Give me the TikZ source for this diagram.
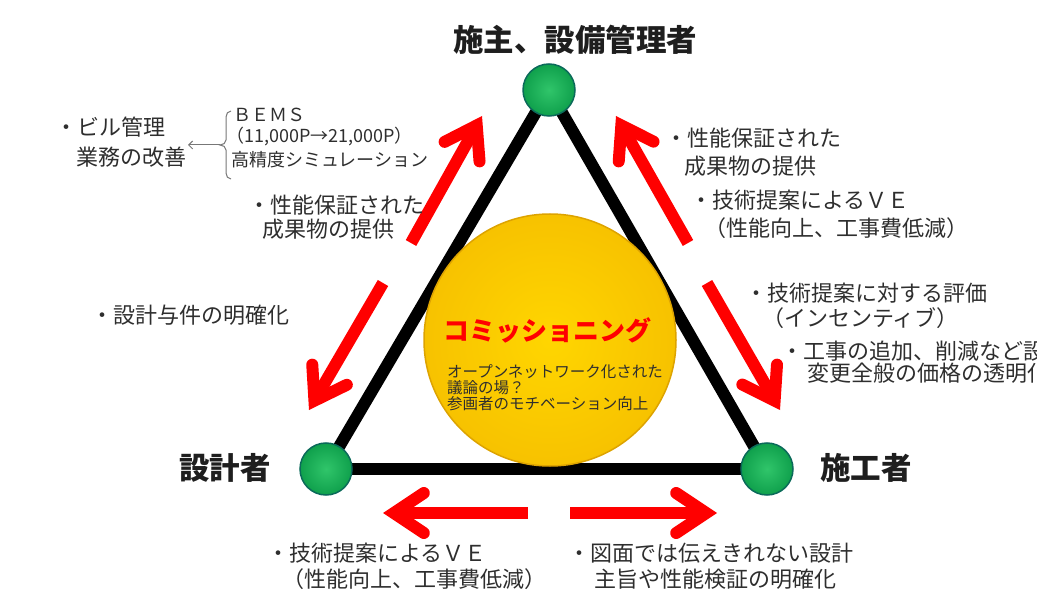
\documentclass[tikz,border=0pt]{standalone}
\usepackage{fontspec}
\setmainfont{Noto Sans CJK JP}
\usetikzlibrary{arrows.meta,backgrounds}
\definecolor{arrowred}{HTML}{FF0000}
\definecolor{textgray}{HTML}{2E2E2E}
\definecolor{labelblack}{HTML}{1E1E1E}
\definecolor{greenin}{HTML}{30C56A}
\definecolor{greenout}{HTML}{0FA04C}
\definecolor{greenrim}{HTML}{0B6A5A}
\definecolor{goldin}{HTML}{FFD600}
\definecolor{goldout}{HTML}{F7C200}
\definecolor{goldrim}{HTML}{DDA300}
\definecolor{bracegray}{HTML}{777777}
\begin{document}
\begin{tikzpicture}[x=1pt,y=-1pt,
  txt/.style={anchor=west,inner sep=0pt,text=textgray,font=\fontsize{22}{26}\selectfont},
  smalltxt/.style={txt,font=\fontsize{18}{22}\selectfont},
  coretxt/.style={txt,font=\fontsize{15.5}{16}\selectfont},
  lbl/.style={inner sep=0pt,text=labelblack,font=\bfseries\fontsize{30.5}{36}\selectfont},
  vertex/.style={circle,minimum size=52pt,inner sep=0pt,draw=greenrim,line width=1.5pt,inner color=greenin,outer color=greenout},
  side/.style={line width=12pt,black},
  redarrow/.style={draw=arrowred,line width=12pt,-{Straight Barb[length=30pt,width=40pt,line cap=round,line join=miter]}},
  thinarrow/.style={draw=bracegray,line width=1pt,-{Straight Barb[length=4pt,width=8pt]}}
]
\useasboundingbox (0,0) rectangle (1037,596);
\clip (0,0) rectangle (1037,596);

% vertices
\node[vertex] (top) at (549,90) {};
\node[vertex] (bl) at (326,469) {};
\node[vertex] (br) at (767,469) {};

\begin{scope}[on background layer]
  \draw[side] (top.center) -- (bl.center);
  \draw[side] (bl.center) -- (br.center);
  \draw[side] (br.center) -- (top.center);
\end{scope}

% central circle
\node[circle,minimum size=252pt,inner sep=0pt,draw=goldrim,line width=1.5pt,inner color=goldin,outer color=goldout] (core) at (550,340) {};
\node[inner sep=0pt,text=arrowred,font=\bfseries\fontsize{26}{30}\selectfont] (cmx) at (547,330) {コミッショニング};
\node[coretxt] (c1) at (447,372) {オープンネットワーク化された};
\node[coretxt] (c2) at (447,388) {議論の場？};
\node[coretxt] (c3) at (447,404) {参画者のモチベーション向上};

% vertex labels
\node[lbl] (owner) at (575,40) {施主、設備管理者};
\node[lbl] (designer) at (225,468) {設計者};
\node[lbl] (builder) at (866,468) {施工者};

% red arrows
\coordinate (a1s) at (411,243); \coordinate (a1e) at (482,116);
\coordinate (a2s) at (383,283); \coordinate (a2e) at (309,410);
\coordinate (a3s) at (688,243); \coordinate (a3e) at (616,116);
\coordinate (a4s) at (707,283); \coordinate (a4e) at (780,410);
\coordinate (a5s) at (528,513); \coordinate (a5e) at (383,513);
\coordinate (a6s) at (570,513); \coordinate (a6e) at (717,513);
\draw[redarrow] (a1s) -- (a1e);
\draw[redarrow] (a2s) -- (a2e);
\draw[redarrow] (a3s) -- (a3e);
\draw[redarrow] (a4s) -- (a4e);
\draw[redarrow] (a5s) -- (a5e);
\draw[redarrow] (a6s) -- (a6e);

% top-left annotation
\node[txt] (bil1) at (55,127) {・ビル管理};
\node[txt] (bil2) at (76,157) {業務の改善};
\coordinate (bracetip) at (220,145);
\draw[bracegray,line width=1pt] (231,111) to[out=180,in=90] (226,117) -- (226,140) to[out=-90,in=0] (bracetip) to[out=0,in=90] (226,150) -- (226,173) to[out=-90,in=180] (231,179);
\coordinate (arrowend) at (188,145);
\draw[thinarrow] (bracetip) -- (arrowend);
\node[smalltxt] (bems1) at (233,115) {ＢＥＭＳ};
\node[smalltxt] (bems2) at (226,137) {（11,000P→21,000P）};
\node[smalltxt] (bems3) at (231,160) {高精度シミュレーション};

\node[txt] (l1) at (248,205) {・性能保証された};
\node[txt] (l2) at (262,229) {成果物の提供};
\node[txt] (l3) at (91,315) {・設計与件の明確化};

% right annotations
\node[txt] (r1) at (665,138) {・性能保証された};
\node[txt] (r2) at (684,166) {成果物の提供};
\node[txt] (r3) at (690,200) {・技術提案によるＶＥ};
\node[txt] (r4) at (704,228) {（性能向上、工事費低減）};
\node[txt] (r5) at (745,293) {・技術提案に対する評価};
\node[txt] (r6) at (762,318) {（インセンティブ）};
\node[txt] (r7) at (781,351) {・工事の追加、削減など設計};
\node[txt] (r8) at (807,373) {変更全般の価格の透明化};

% bottom annotations
\node[txt] (b1) at (267,553) {・技術提案によるＶＥ};
\node[txt] (b2) at (282,579) {（性能向上、工事費低減）};
\node[txt] (b3) at (568,553) {・図面では伝えきれない設計};
\node[txt] (b4) at (594,579) {主旨や性能検証の明確化};
\end{tikzpicture}
\end{document}
